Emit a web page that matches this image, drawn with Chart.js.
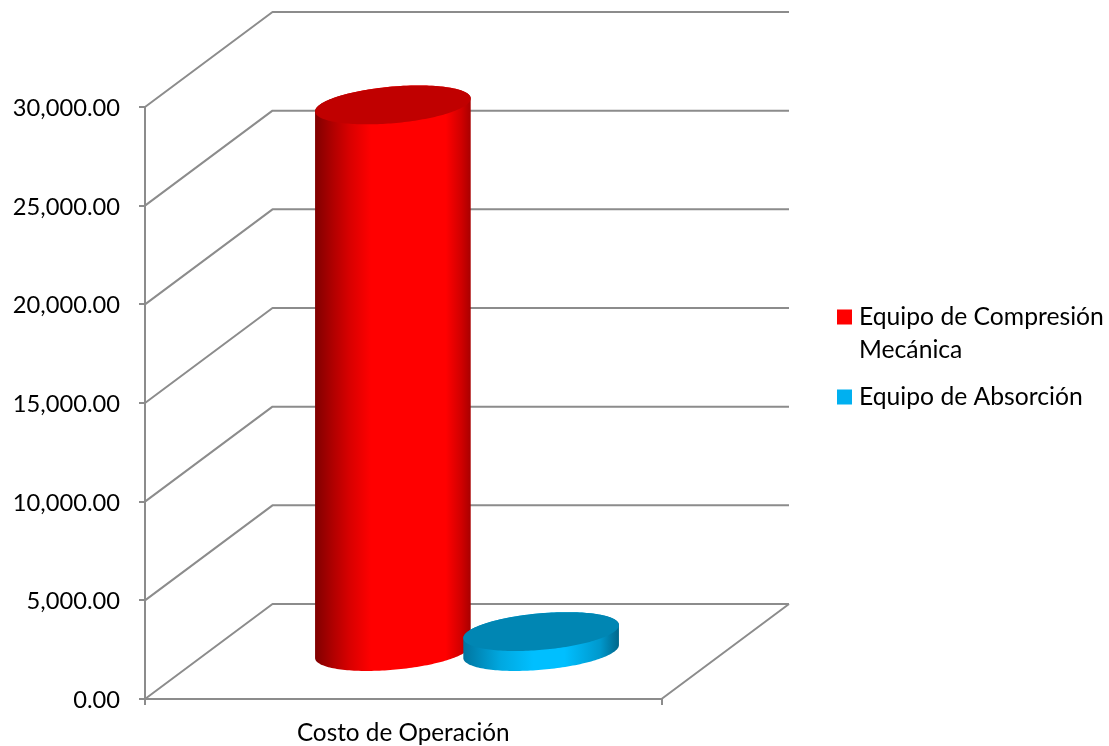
<!DOCTYPE html>
<html><head><meta charset="utf-8">
<style>html,body{margin:0;padding:0;background:#fff}canvas{display:block}</style>
<script src="https://cdn.jsdelivr.net/npm/chart.js@4/dist/chart.umd.min.js"></script>
</head><body><canvas id="c" width="1109" height="746"></canvas>
<script>
const categories = ["Costo de Operación"];
const seriesCompresionLabel = ["Equipo de Compresión", "Mecánica"];
const seriesAbsorcionLabel = ["Equipo de Absorción"];
const seriesCompresion = [27750];
const seriesAbsorcion = [1060];
const yTickMax = 30000;
const yTickStep = 5000;

const DEPTH_X = 127.5, DEPTH_Y = -95, GRID = '#8C8C8C', FS = 24.7, TICK_FS = 23.7, CAT_FS = 24.3, LW = 10.7;
const looks = [
  {top:'#C00000', stops:[[0,'#800000'],[.115,'#B00000'],[.22,'#D80000'],[.36,'#FF0000'],[.84,'#FF0000'],[.94,'#D00000'],[1,'#A80000']]},
  {top:'#0086B3', stops:[[0,'#00759F'],[.24,'#00A8E0'],[.45,'#00BFFF'],[.65,'#00BFFF'],[.88,'#0098CC'],[1,'#00668A']]}
];
const depthPlugin = {
  id:'depth',
  afterLayout(chart){
    const l = chart.legend;
    const h = l.height;
    l.left = 837 + LW/2 - 14; l.right = l.left + 290;
    l.top = 290.6; l.bottom = l.top + h + 20;
  },
  beforeDatasetsDraw(chart){
    const {ctx, chartArea:a, scales:{y}} = chart;
    ctx.save(); ctx.strokeStyle = GRID; ctx.lineWidth = 2; ctx.lineJoin='round';
    ctx.beginPath();
    y.ticks.forEach(t=>{
      const p = y.getPixelForValue(t.value);
      ctx.moveTo(a.left,p); ctx.lineTo(a.left+DEPTH_X,p+DEPTH_Y); ctx.lineTo(a.right+DEPTH_X,p+DEPTH_Y);
    });
    const b = y.getPixelForValue(0);
    ctx.moveTo(a.right+DEPTH_X,b+DEPTH_Y); ctx.lineTo(a.right,b);
    ctx.stroke(); ctx.restore();
  },
  // The flat bars are replaced by cylinders, painted in series order so the second overlaps the first.
  beforeDatasetDraw(){ return false; },
  afterDatasetsDraw(chart){
    const {ctx} = chart;
    looks.forEach((look,idx)=>{
      chart.getDatasetMeta(idx).data.forEach(el=>{
        const R = el.width/2, bx = 26*R/78, by = -19.5*R/78;
        const a = Math.sqrt(R*R-bx*bx);
        const cx = el.x + DEPTH_X/2, topY = el.y + DEPTH_Y/2 + 1, baseY = el.base + DEPTH_Y/2 + 1;
        const pt = (t,cy)=>[cx+Math.cos(t)*a+Math.sin(t)*bx, cy+Math.sin(t)*by];
        const tR = Math.atan2(bx,a);
        const N = 90;
        ctx.save();
        const g = ctx.createLinearGradient(cx-R,0,cx+R,0);
        look.stops.forEach(s=>g.addColorStop(s[0],s[1]));
        ctx.fillStyle = g;
        ctx.beginPath();
        let p = pt(tR,topY); ctx.moveTo(p[0],p[1]);
        for(let i=0;i<=N;i++){ p = pt(tR+Math.PI*i/N,topY); ctx.lineTo(p[0],p[1]); }
        for(let i=0;i<=N;i++){ p = pt(tR+Math.PI+Math.PI*i/N,baseY); ctx.lineTo(p[0],p[1]); }
        ctx.closePath(); ctx.fill();
        ctx.fillStyle = look.top;
        ctx.beginPath();
        for(let i=0;i<=2*N;i++){ p = pt(Math.PI*i/N,topY); i?ctx.lineTo(p[0],p[1]):ctx.moveTo(p[0],p[1]); }
        ctx.closePath(); ctx.fill();
        ctx.restore();
      });
    });
  }
};
new Chart(document.getElementById('c'),{
  type:'bar',
  data:{labels:categories,datasets:[
    {label:seriesCompresionLabel,data:seriesCompresion,backgroundColor:'#FF0000',borderColor:'#FF0000',borderWidth:LW},
    {label:seriesAbsorcionLabel,data:seriesAbsorcion,backgroundColor:'#00B0F0',borderColor:'#00B0F0',borderWidth:LW}
  ]},
  options:{
    responsive:false, animation:false,
    layout:{padding:{left:0,top:107,right:447.5,bottom:0}},
    datasets:{bar:{categoryPercentage:0.574,barPercentage:1.05}},
    scales:{
      y:{min:0,max:yTickMax,
        afterFit(s){s.width=145;},
        border:{color:GRID,width:2},
        grid:{drawOnChartArea:false,color:GRID,lineWidth:2,tickLength:6},
        ticks:{stepSize:yTickStep,padding:19,labelOffset:1.5,color:'#000',font:{family:'Lato',size:TICK_FS},
          callback:v=>v.toLocaleString('en-US',{minimumFractionDigits:2,maximumFractionDigits:2})}
      },
      x:{
        afterFit(s){s.height=47;},
        border:{color:GRID,width:2},
        grid:{drawOnChartArea:false,color:GRID,lineWidth:2,tickLength:6},
        ticks:{padding:14,color:'#000',font:{family:'Lato',size:CAT_FS},maxRotation:0}
      }
    },
    plugins:{
      tooltip:{enabled:false},
      legend:{position:'chartArea',align:'start',
        labels:{font:{family:'Lato',size:FS,lineHeight:33/FS},color:'#000',boxWidth:15-LW,boxHeight:15-LW,padding:14}}
    }
  },
  plugins:[depthPlugin]
});
</script></body></html>
